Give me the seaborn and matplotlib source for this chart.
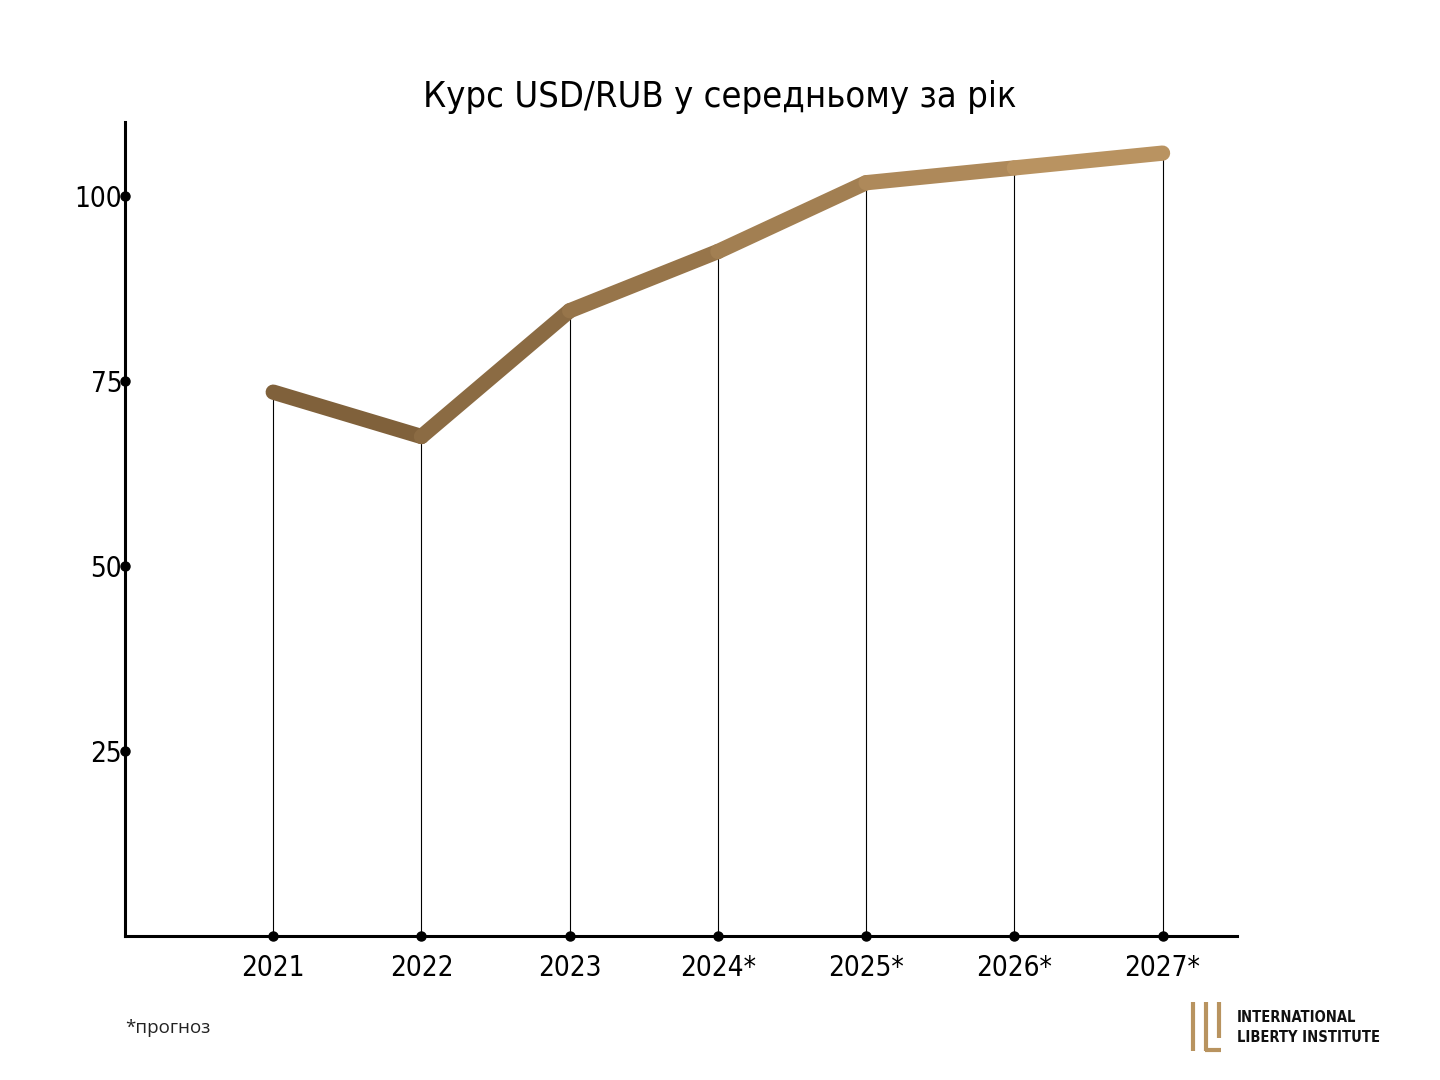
import numpy as np
import pandas as pd
import matplotlib
matplotlib.use("Agg")
import matplotlib.pyplot as plt
from matplotlib import font_manager
from matplotlib.colors import to_rgb
import seaborn as sns

# ---- data ----
years = ["2021", "2022", "2023", "2024*", "2025*", "2026*", "2027*"]
rates = [73.5, 67.5, 84.5, 92.5, 101.8, 103.8, 105.8]
yticks = [25, 50, 75, 100]
title = "Курс USD/RUB у середньому за рік"
note = "*прогноз"
logo_lines = ["INTERNATIONAL", "LIBERTY INSTITUTE"]

sns.set_theme(style="white")
avail = {f.name for f in font_manager.fontManager.ttflist}
cond = None
for cand in ["Liberation Sans Narrow", "DejaVu Sans Condensed"]:
    if cand in avail:
        cond = cand
        break
if cond is None:
    cond = "DejaVu Sans"
    stretch = "condensed"
else:
    stretch = "normal"
plt.rcParams["font.family"] = [cond, "DejaVu Sans"]
plt.rcParams["font.stretch"] = stretch

fig = plt.figure(figsize=(14.4, 10.8), dpi=100)
ax = fig.add_axes([0.0868, 0.1333, 0.772, 0.7537])

df = pd.DataFrame({"year": years, "rate": rates, "x": np.arange(len(years))})

c0 = np.array(to_rgb("#7a5c37"))
c1 = np.array(to_rgb("#bf9865"))

# drop lines
for xi, yi in zip(df["x"], df["rate"]):
    ax.plot([xi, xi], [0, yi], color="black", lw=0.8, zorder=2, solid_capstyle="butt")

# gradient line, one segment at a time
n = len(df)
for i in range(n - 1):
    t = (i + 0.5) / (n - 1)
    col = c0 * (1 - t) + c1 * t
    seg = df.iloc[i:i + 2]
    sns.lineplot(data=seg, x="x", y="rate", ax=ax, color=col, lw=11,
                 solid_capstyle="round", solid_joinstyle="round", zorder=3,
                 sort=False, estimator=None)

ax.set_xlim(-1.0, 6.5)
ax.set_ylim(0, 110)
ax.set_xlabel("")
ax.set_ylabel("")
ax.set_xticks(df["x"])
ax.set_xticklabels(years)
ax.set_yticks(yticks)
ax.set_yticklabels([str(v) for v in yticks])
ax.tick_params(axis="x", length=0, pad=13, labelsize=20, colors="black")
ax.tick_params(axis="y", length=0, pad=2, labelsize=20, colors="black")
for lab in ax.get_xticklabels() + ax.get_yticklabels():
    lab.set_fontstretch(stretch)

for s in ["top", "right"]:
    ax.spines[s].set_visible(False)
for s in ["left", "bottom"]:
    ax.spines[s].set_color("black")
    ax.spines[s].set_linewidth(2.2)
ax.grid(False)

# dots at ticks
ax.plot(df["x"], np.zeros(n), "o", color="black", ms=6.5, clip_on=False, zorder=5)
ax.plot(np.full(len(yticks), -1.0), yticks, "o", color="black", ms=6.5, clip_on=False, zorder=5)

fig.text(0.5, 0.91, title, ha="center", va="center", fontsize=26, color="black",
         fontstretch=stretch)
fig.text(0.0868, 0.048, note, ha="left", va="center", fontsize=13.5, color="#222222",
         family=["Open Sans", "DejaVu Sans"], fontstretch="normal")

# logo
gold = "#b8935f"
H = 1080.0
W = 1440.0
def fx(px):
    return px / W
def fy(py):
    return 1 - py / H
lw_logo = 3.0
kw = dict(color=gold, lw=lw_logo, solid_capstyle="butt")
fig.add_artist(plt.Line2D([fx(1193), fx(1193)], [fy(1002), fy(1051)], **kw))
fig.add_artist(plt.Line2D([fx(1206), fx(1206)], [fy(1002), fy(1051)], **kw))
fig.add_artist(plt.Line2D([fx(1204.5), fx(1221)], [fy(1049.5), fy(1049.5)], **kw))
fig.add_artist(plt.Line2D([fx(1219), fx(1219)], [fy(1002), fy(1038)], **kw))
fig.text(fx(1237), fy(1018), logo_lines[0], ha="left", va="center", fontsize=10.5,
         fontweight="bold", color="#111111", fontstretch=stretch)
fig.text(fx(1237), fy(1038), logo_lines[1], ha="left", va="center", fontsize=10.5,
         fontweight="bold", color="#111111", fontstretch=stretch)

fig.savefig("out.png", dpi=100, facecolor="white")
